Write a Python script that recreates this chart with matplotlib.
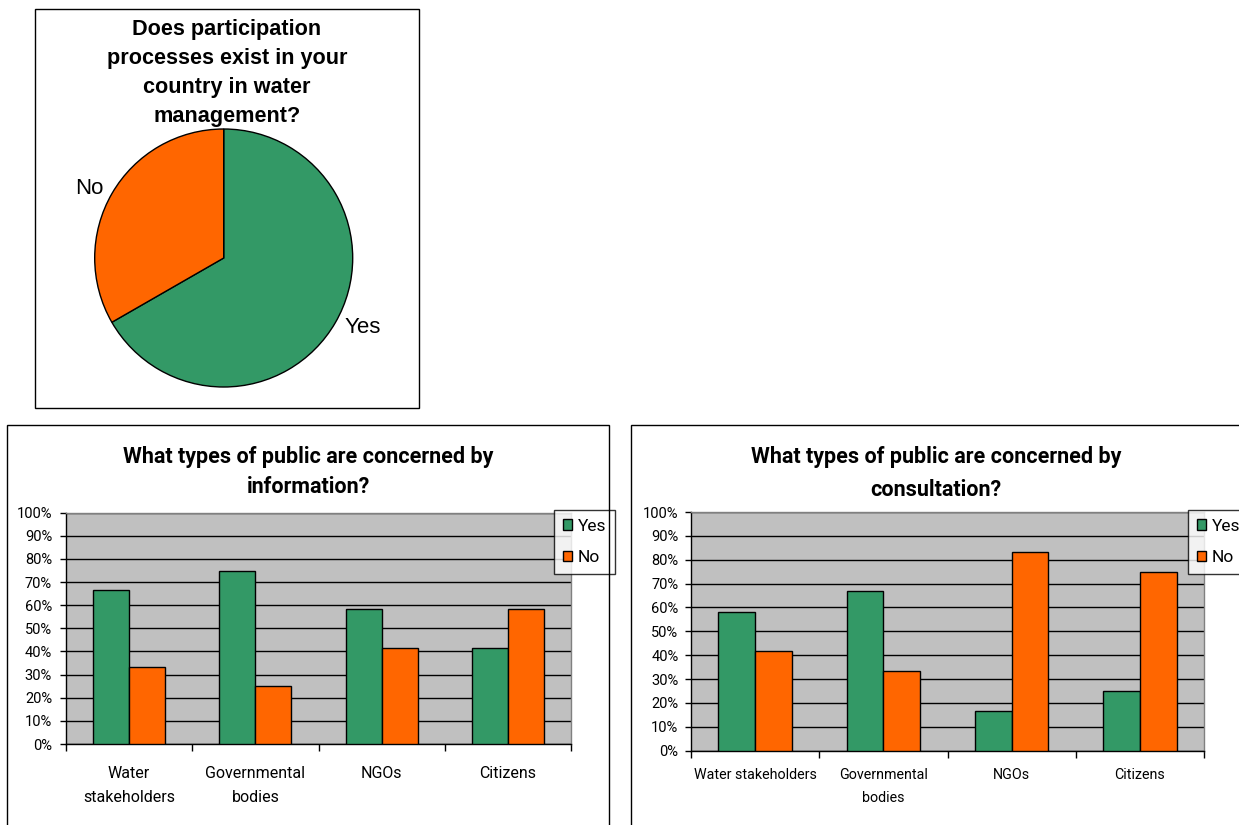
import matplotlib
matplotlib.use("Agg")
import matplotlib.pyplot as plt
from matplotlib.patches import Rectangle

# ---- data ----
pie_labels = ["Yes", "No"]
pie_values = [66.7, 33.3]

categories_info = ["Water\nstakeholders", "Governmental\nbodies", "NGOs", "Citizens"]
info_yes = [66.7, 75.0, 58.3, 41.7]
info_no = [33.3, 25.0, 41.7, 58.3]

categories_cons = ["Water stakeholders", "Governmental\nbodies", "NGOs", "Citizens"]
cons_yes = [58.3, 66.7, 16.7, 25.0]
cons_no = [41.7, 33.3, 83.3, 75.0]

series_names = ["Yes", "No"]
y_ticks = [0, 10, 20, 30, 40, 50, 60, 70, 80, 90, 100]

GREEN = "#339966"
ORANGE = "#FF6600"
PLOT_BG = "#C0C0C0"

NARROW = ["Roboto", "DejaVu Sans"]
ARIAL = ["Liberation Sans", "DejaVu Sans"]

W, H = 1239, 825
fig = plt.figure(figsize=(W / 100, H / 100), dpi=100)
fig.patch.set_facecolor("white")


def px_rect(x0, y0, x1, y1):
    """Convert pixel box (top-left origin) to figure-fraction rect."""
    return [x0 / W, 1 - y1 / H, (x1 - x0) / W, (y1 - y0) / H]


def frame(x0, y0, x1, y1):
    fig.patches.append(Rectangle((x0 / W, 1 - y1 / H), (x1 - x0) / W, (y1 - y0) / H,
                                 transform=fig.transFigure, fill=False,
                                 edgecolor="black", linewidth=1.0, zorder=0))


# ---- panel frames ----
frame(35, 9, 419, 408)
frame(7, 425, 609, 840)
frame(631, 425, 1260, 840)

# ---- pie ----
cx, cy, r = 223.7, 258, 129
ax_pie = fig.add_axes(px_rect(cx - r, cy - r, cx + r, cy + r))
ax_pie.pie(pie_values, labels=pie_labels, colors=[GREEN, ORANGE], startangle=90,
           counterclock=False, labeldistance=1.08,
           wedgeprops=dict(edgecolor="black", linewidth=1.0),
           textprops=dict(fontsize=16, family=ARIAL))
ax_pie.set_xlim(-1.0, 1.0)
ax_pie.set_ylim(-1.0, 1.0)
ax_pie.set_aspect("equal")
ax_pie.axis("off")
fig.text(227 / W, 1 - 73 / H,
         "Does participation\nprocesses exist in your\ncountry in water\nmanagement?",
         ha="center", va="center", fontsize=15.6, fontweight="bold", family=ARIAL,
         linespacing=1.52)


def bar_panel(rect_px, cats, yes, no, title, title_xy, title_ls,
              xlabel_size, xlabel_pad, xlabel_ls, ytick_pad, legend_px):
    ax = fig.add_axes(px_rect(*rect_px))
    ax.set_facecolor(PLOT_BG)
    n = len(cats)
    xs = list(range(n))
    bw = 1 / 3.5
    ax.bar([x - bw / 2 for x in xs], yes, width=bw, color=GREEN, edgecolor="black",
           linewidth=1.0, zorder=3, label=series_names[0])
    ax.bar([x + bw / 2 for x in xs], no, width=bw, color=ORANGE, edgecolor="black",
           linewidth=1.0, zorder=3, label=series_names[1])
    ax.set_xlim(-0.5, n - 0.5)
    ax.set_ylim(0, 100)
    ax.set_yticks(y_ticks)
    ax.set_yticklabels([f"{v}%" for v in y_ticks], family=NARROW, fontsize=10.5)
    ax.yaxis.grid(True, color="black", linewidth=1.0, zorder=1)
    ax.set_axisbelow(True)
    ax.tick_params(axis="y", direction="out", length=4, width=1, pad=ytick_pad)
    # category boundaries carry the tick marks, centres carry the labels
    ax.set_xticks([x - 0.5 for x in range(n + 1)])
    ax.set_xticklabels([""] * (n + 1))
    ax.tick_params(axis="x", which="major", direction="out", length=5, width=1)
    ax.set_xticks(xs, minor=True)
    ax.set_xticklabels(cats, minor=True, family=NARROW, fontsize=xlabel_size,
                       linespacing=xlabel_ls)
    ax.tick_params(axis="x", which="minor", length=0, pad=xlabel_pad)
    for s in ("left", "bottom"):
        ax.spines[s].set_color("black")
        ax.spines[s].set_linewidth(1.0)
    for s in ("top", "right"):
        ax.spines[s].set_color("#808080")
        ax.spines[s].set_linewidth(1.0)
    fig.text(title_xy[0] / W, 1 - title_xy[1] / H, title, ha="center", va="center",
             fontsize=15.5, fontweight="bold", family=NARROW, linespacing=title_ls)
    lx0, ly0 = legend_px
    leg = ax.legend(loc="upper left", bbox_to_anchor=(lx0 / W, 1 - ly0 / H),
                    bbox_transform=fig.transFigure, frameon=True, fancybox=False,
                    shadow=False, prop=dict(family=NARROW, size=12.5),
                    handlelength=0.55, handleheight=0.55, handletextpad=0.3,
                    labelspacing=0.95, borderpad=0.5, borderaxespad=0)
    leg.get_frame().set_edgecolor("black")
    leg.get_frame().set_linewidth(1.0)
    return ax


bar_panel((66, 512.7, 571, 744), categories_info, info_yes, info_no,
          "What types of public are concerned by\ninformation?", (308, 472), 1.45,
          11.5, 16, 1.75, 6, (554, 510))
bar_panel((691, 512, 1204, 750.7), categories_cons, cons_yes, cons_no,
          "What types of public are concerned by\nconsultation?", (936, 473.5), 1.6,
          10.3, 12.5, 1.85, 5, (1188, 510))

fig.savefig("out.png", dpi=100)
